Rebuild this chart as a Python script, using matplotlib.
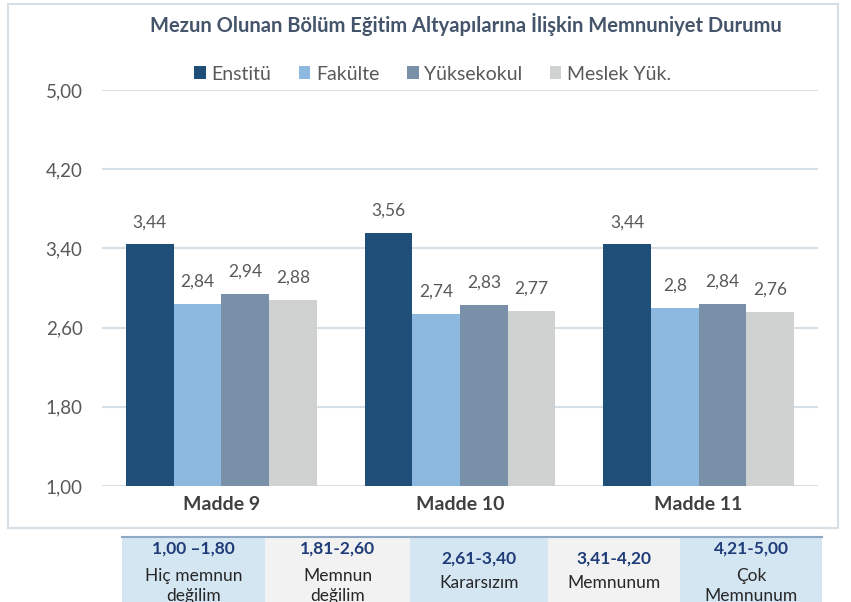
import numpy as np
import matplotlib.pyplot as plt
from matplotlib.patches import Rectangle

plt.rcParams['font.family'] = ['Lato', 'DejaVu Sans']

maddeler = ['Madde 9', 'Madde 10', 'Madde 11']
seriler = ['Enstitü', 'Fakülte', 'Yüksekokul', 'Meslek Yük.']
enstitu = [3.44, 3.56, 3.44]
fakulte = [2.84, 2.74, 2.80]
yuksekokul = [2.94, 2.83, 2.84]
meslek = [2.88, 2.77, 2.76]
etiketler = [['3,44', '3,56', '3,44'],
             ['2,84', '2,74', '2,8'],
             ['2,94', '2,83', '2,84'],
             ['2,88', '2,77', '2,76']]
renkler = ['#1F4E79', '#8DB9E0', '#7A8FA8', '#D0D1D1']
y_ticks = [1.00, 1.80, 2.60, 3.40, 4.20, 5.00]

araliklar = ['1,00 \u20131,80', '1,81-2,60', '2,61-3,40', '3,41-4,20', '4,21-5,00']
aciklamalar = [['Hiç memnun', 'değilim'], ['Memnun', 'değilim'], ['Kararsızım'],
               ['Memnunum'], ['Çok', 'Memnunum']]
hucre_renk = ['#D5E6F3', '#F2F2F2', '#D5E6F3', '#F2F2F2', '#D5E6F3']

yazi = '#595959'
baslik = '#44546A'

fig = plt.figure(figsize=(8.51, 6.02), dpi=100)
fig.patch.set_facecolor('white')

# chart frame
fig.add_artist(Rectangle((8 / 851, 1 - 528 / 602), 830 / 851, 524 / 602,
                         transform=fig.transFigure, fill=False,
                         edgecolor='#D6DEE6', linewidth=1.5))

ax = fig.add_axes([102 / 851, 1 - 486 / 602, 716 / 851, 396 / 602])
x = np.arange(len(maddeler))
w = 0.2
degerler = [enstitu, fakulte, yuksekokul, meslek]
for i, (seri, vals) in enumerate(zip(seriler, degerler)):
    pos = x + (i - 1.5) * w
    ax.bar(pos, [v - 1 for v in vals], w, bottom=1, color=renkler[i], label=seri, zorder=3)
    for p, v, lab in zip(pos, vals, etiketler[i]):
        ax.text(p, v + 0.14, lab, ha='center', va='bottom', fontsize=12.5, color=yazi)

ax.set_xlim(-0.5, 2.5)
ax.set_ylim(1, 5)
ax.set_yticks(y_ticks)
ax.set_yticklabels([f'{t:.2f}'.replace('.', ',') for t in y_ticks], fontsize=13.5, color=yazi)
ax.set_xticks(x)
ax.set_xticklabels(maddeler, fontsize=14, fontweight='bold', color='#404040')
ax.tick_params(axis='both', length=0)
ax.tick_params(axis='y', pad=14)
ax.tick_params(axis='x', pad=7)
ax.grid(axis='y', color='#D6DEE6', linewidth=1.5, zorder=0)
for s in ax.spines.values():
    s.set_visible(False)

fig.text(466 / 851, 1 - 24 / 602, 'Mezun Olunan Bölüm Eğitim Altyapılarına İlişkin Memnuniyet Durumu',
         ha='center', va='center', fontsize=14.5, fontweight='bold', color=baslik)
ax.legend(loc='center', bbox_to_anchor=(0.462, (74 - 90) / -396 + 1), ncol=4, frameon=False,
          fontsize=14, handlelength=0.6, handleheight=0.6, handletextpad=0.3,
          columnspacing=1.4, labelcolor=yazi)

# scale table
sinirlar = [122, 265, 410, 548, 680, 822]
for i in range(5):
    x0 = sinirlar[i] / 851
    genis = (sinirlar[i + 1] - sinirlar[i]) / 851
    fig.add_artist(Rectangle((x0, 0), genis, 1 - 537 / 602, transform=fig.transFigure,
                             facecolor=hucre_renk[i], edgecolor='none'))
    xc = x0 + genis / 2
    if len(aciklamalar[i]) > 1:
        satirlar = [549, 576, 596]
    else:
        satirlar = [559, 583]
    fig.text(xc, 1 - satirlar[0] / 602, araliklar[i], ha='center', va='center', fontsize=12.5,
             fontweight='bold', color='#1F3C78')
    for sat, metin in zip(satirlar[1:], aciklamalar[i]):
        fig.text(xc, 1 - sat / 602, metin, ha='center', va='center', fontsize=12.5,
                 color='#262626')
fig.add_artist(plt.Line2D([122 / 851, 822 / 851], [1 - 537 / 602] * 2, transform=fig.transFigure,
                          color='#8FA9C4', linewidth=1.5))

fig.savefig('out.png', dpi=100)
